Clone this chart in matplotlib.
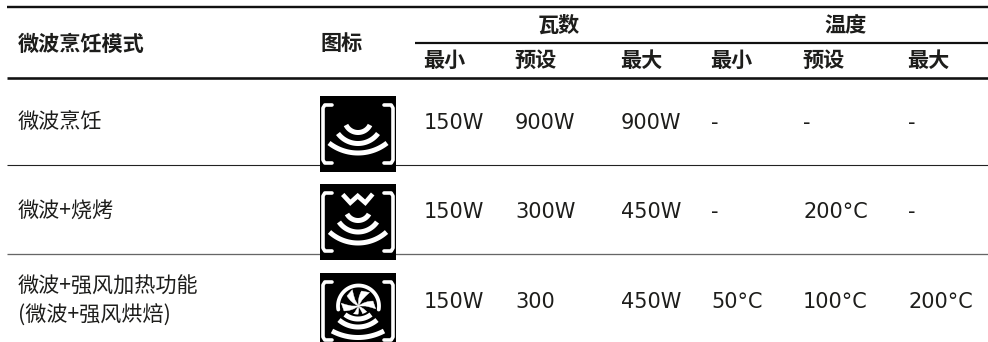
import numpy as np
import matplotlib
matplotlib.use("Agg")
import matplotlib.pyplot as plt
from matplotlib.path import Path
from matplotlib.patches import PathPatch, Rectangle
from matplotlib.transforms import Affine2D

modes = ["微波烹饪", "微波+烧烤", "微波+强风加热功能\n(微波+强风烘焙)"]
group_heads = ["瓦数", "温度"]
sub_heads = ["最小", "预设", "最大", "最小", "预设", "最大"]
values = [
    ["150W", "900W", "900W", "-", "-", "-"],
    ["150W", "300W", "450W", "-", "200°C", "-"],
    ["150W", "300", "450W", "50°C", "100°C", "200°C"],
]

INK = "#1d1d1b"
CJK = ["Noto Sans CJK SC", "DejaVu Sans"]
LAT = ["DejaVu Sans", "Noto Sans CJK SC"]
PX = 0.72

fig = plt.figure(figsize=(9.88, 3.42), dpi=100, facecolor="white")
ax = fig.add_axes([0, 0, 1, 1])
ax.set_xlim(0, 988)
ax.set_ylim(342, 0)
ax.axis("off")

# rules
ax.plot([7, 988], [7, 7], color="#111111", lw=2.4 * PX, solid_capstyle="butt")
ax.plot([415, 988], [42.5, 42.5], color="#111111", lw=2.2 * PX, solid_capstyle="butt")
ax.plot([7, 988], [78, 78], color="#111111", lw=2.6 * PX, solid_capstyle="butt")
ax.plot([7, 988], [165, 165], color="#222222", lw=1.1 * PX, solid_capstyle="butt")
ax.plot([7, 988], [254, 254], color="#666666", lw=1.3 * PX, solid_capstyle="butt")

# headers
HEAD = dict(family=CJK, weight=900, fontsize=15.2, color=INK, va="center")
ax.text(18, 44, "微波烹饪模式", ha="left", **HEAD)
ax.text(320, 43, "图标", ha="left", **HEAD)
for head, xc in zip(group_heads, [559, 846]):
    ax.text(xc, 25, head, ha="center", **HEAD)
col_x = [423, 514, 620, 710, 802, 907]
for head, x in zip(sub_heads, col_x):
    ax.text(x, 60, head, ha="left", **HEAD)

# body
text_y = [122, 212, 301]
val_y = [123, 212, 302]
for mode, y in zip(modes, text_y):
    ax.text(18, y, mode, family=CJK, fontsize=15.2, color=INK, ha="left", va="center", linespacing=1.42)
for row, y in zip(values, val_y):
    for v, x in zip(row, col_x):
        ax.text(x + 1, y, v, family=LAT, fontsize=15, color=INK, ha="left", va="center")


# icons: each wave is (half chord, y of its ends, y of its lowest point) inside the icon
def chord_arc(cx, w, y_end, y_low):
    s = y_low - y_end
    r = (w * w + s * s) / (2 * s)
    h = np.arcsin(w / r)
    a = np.linspace(-h, h, 40)
    return cx + r * np.sin(a), y_low - r + r * np.cos(a)


def icon(top, height, waves):
    clip = Rectangle((320, top), 76, height, transform=ax.transData)
    ax.add_patch(Rectangle((320, top), 76, height, color="black", lw=0, zorder=3))
    cx = 358
    arts = []
    for x0, x1 in ((332, 323), (384, 393)):
        tx = [x0, x1 + (x0 - x1) * 0.2, x1, x1, x1 + (x0 - x1) * 0.2, x0]
        ys = [top + 9, top + 9, top + 12, top + 64, top + 67, top + 67]
        arts += ax.plot(tx, ys, color="white", lw=3.6 * PX, zorder=6,
                        solid_capstyle="round", solid_joinstyle="round")
    for w, y_end, y_low in waves:
        xs, ys = chord_arc(cx, w, top + y_end, top + y_low)
        arts += ax.plot(xs, ys, color="black", lw=9 * PX, zorder=5, solid_capstyle="butt")
        arts += ax.plot(xs, ys, color="white", lw=5 * PX, zorder=6, solid_capstyle="butt")
    for a in arts:
        a.set_clip_path(clip)
    return clip


icon(96, 76, [(29, 47, 57), (20, 37.5, 47.5), (12, 29, 36.5)])
icon(184, 76, [(28.5, 48, 59), (19, 38, 48), (11, 30, 36.5)])
ax.plot([342.7, 350.3, 357.7, 365.3, 372.7], [194.5, 202.7, 196, 202.7, 194], color="white",
        lw=4.6 * PX, zorder=6, solid_capstyle="butt", solid_joinstyle="miter")
icon(273, 69, [(26, 58, 64.5), (19, 47, 54), (13, 41.5, 46)])

# fan
fc = (358.5, 306)
a = np.radians(np.linspace(260, 460, 80))
ax.plot(fc[0] + 20.5 * np.sin(a), fc[1] - 20.5 * np.cos(a), color="white",
        lw=3.8 * PX, zorder=6, solid_capstyle="round")
blade = Path([(0, 0), (-1, -8), (3, -15), (11, -13.5), (7, -10), (3.5, -6), (0, 0), (0, 0)],
             [Path.MOVETO, Path.CURVE3, Path.CURVE3, Path.LINETO, Path.CURVE3, Path.CURVE3, Path.LINETO, Path.CLOSEPOLY])
for k in range(6):
    tr = Affine2D().rotate_deg(60 * k).translate(*fc) + ax.transData
    ax.add_patch(PathPatch(blade, fc="white", ec="white", lw=0.3, transform=tr, zorder=4))

fig.savefig("out.png", dpi=100, facecolor="white")
